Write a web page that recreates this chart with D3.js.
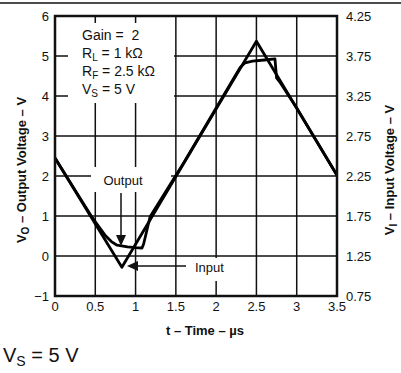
<!DOCTYPE html>
<html><head><meta charset="utf-8">
<script src="https://cdn.jsdelivr.net/npm/d3@7"></script>
<style>
html,body{margin:0;padding:0;background:#fff;}
svg{display:block;font-family:"Liberation Sans",Arial,Helvetica,sans-serif;}
</style></head>
<body><svg id="c" width="401" height="373"></svg>
<script>
// ---- data ----
const timeTicks = [0, 0.5, 1, 1.5, 2, 2.5, 3, 3.5];
const timeLabels = ["0", "0.5", "1", "1.5", "2", "2.5", "3", "3.5"];
const voTicks = [-1, 0, 1, 2, 3, 4, 5, 6];
const voLabels = ["\u22121", "0", "1", "2", "3", "4", "5", "6"];
const viLabels = ["0.75", "1.25", "1.75", "2.25", "2.75", "3.25", "3.75", "4.25"];
const inputT = [0, 0.83, 2.5, 3.5];
const inputV = [2.45, -0.28, 5.37, 2.02];
const outputT = [0, 0.3, 0.45, 0.55, 0.63, 0.7, 0.77, 0.9, 1.0, 1.08, 1.1, 1.18, 1.6, 2.0, 2.25, 2.3, 2.36, 2.45, 2.6, 2.73, 2.75, 2.8, 3.0, 3.5];
const outputV = [2.45, 1.48, 1.0, 0.72, 0.5, 0.36, 0.27, 0.23, 0.21, 0.2, 0.3, 0.98, 2.34, 3.7, 4.55, 4.72, 4.83, 4.87, 4.9, 4.93, 4.45, 4.32, 3.7, 2.02];
const notes = [["Gain =\u00a0 2"], ["R", "L", " = 1 k\u03a9"], ["R", "F", " = 2.5 k\u03a9"], ["V", "S", " = 5 V"]];

// ---- layout ----
const svg = d3.select("#c");
const x = d3.scaleLinear().domain([0, 3.5]).range([55, 337]);
const y = d3.scaleLinear().domain([-1, 6]).range([296, 16]);
const ink = "#111";

// top rule
svg.append("line").attr("x1", 0).attr("x2", 401).attr("y1", 3).attr("y2", 3)
  .attr("stroke", ink).attr("stroke-width", 1.5);

// grid
const g = svg.append("g");
g.selectAll(".vg").data(timeTicks.slice(1, -1)).join("line")
  .attr("x1", d => x(d)).attr("x2", d => x(d)).attr("y1", y(6)).attr("y2", y(-1))
  .attr("stroke", ink).attr("stroke-width", 1.5);
g.selectAll(".hg").data(voTicks.slice(1, -1)).join("line")
  .attr("x1", x(0)).attr("x2", x(3.5)).attr("y1", d => y(d)).attr("y2", d => y(d))
  .attr("stroke", ink).attr("stroke-width", 1.5);

// masks behind annotations
svg.append("rect").attr("x", 68).attr("y", 23).attr("width", 106).attr("height", 80).attr("fill", "#fff");
svg.append("rect").attr("x", 91).attr("y", 167).attr("width", 80).attr("height", 25).attr("fill", "#fff");
svg.append("rect").attr("x", 190).attr("y", 258).attr("width", 40).attr("height", 23).attr("fill", "#fff");

// curves
const line = d3.line().x(d => x(d[0])).y(d => y(d[1]));
svg.append("path").datum(inputT.map((t, i) => [t, inputV[i]])).attr("d", line)
  .attr("fill", "none").attr("stroke", "#000").attr("stroke-width", 2.8).attr("stroke-linejoin", "round");
svg.append("path").datum(outputT.map((t, i) => [t, outputV[i]])).attr("d", line)
  .attr("fill", "none").attr("stroke", "#000").attr("stroke-width", 2.8).attr("stroke-linejoin", "round");

// frame
svg.append("rect").attr("x", x(0)).attr("y", y(6)).attr("width", x(3.5) - x(0)).attr("height", y(-1) - y(6))
  .attr("fill", "none").attr("stroke", ink).attr("stroke-width", 2.5);

// left tick labels
svg.selectAll(".yl").data(voTicks).join("text")
  .attr("x", 49).attr("y", d => y(d)).attr("dy", "0.35em").attr("text-anchor", "end")
  .attr("font-size", 13).attr("fill", ink).text((d, i) => voLabels[i]);
// right tick labels
svg.selectAll(".yr").data(voTicks).join("text")
  .attr("x", 346).attr("y", d => y(d)).attr("dy", "0.35em").attr("text-anchor", "start")
  .attr("font-size", 13).attr("fill", ink).text((d, i) => viLabels[i]);
// bottom tick labels
svg.selectAll(".xl").data(timeTicks).join("text")
  .attr("x", d => x(d)).attr("y", 311).attr("text-anchor", "middle")
  .attr("font-size", 13).attr("fill", ink).text((d, i) => timeLabels[i]);

// axis titles
svg.append("text").attr("x", 205).attr("y", 335).attr("text-anchor", "middle")
  .attr("font-size", 13).attr("font-weight", "bold").attr("fill", ink).text("t \u2013 Time \u2013 \u00b5s");
const lt = svg.append("text").attr("transform", "translate(26,170) rotate(-90)").attr("text-anchor", "middle")
  .attr("font-size", 13).attr("font-weight", "bold").attr("fill", ink);
lt.append("tspan").text("V");
lt.append("tspan").attr("font-size", 10).attr("dy", 3).text("O");
lt.append("tspan").attr("dy", -3).text(" \u2013 Output Voltage \u2013 V");
const rt = svg.append("text").attr("transform", "translate(394,170) rotate(-90)").attr("text-anchor", "middle")
  .attr("font-size", 13).attr("font-weight", "bold").attr("fill", ink);
rt.append("tspan").text("V");
rt.append("tspan").attr("font-size", 10).attr("dy", 3).text("I");
rt.append("tspan").attr("dy", -3).text(" \u2013 Input Voltage \u2013 V");

// notes
notes.forEach((n, i) => {
  const t = svg.append("text").attr("x", 82).attr("y", 40 + i * 18).attr("font-size", 14).attr("fill", ink);
  if (n.length === 1) { t.text(n[0]); return; }
  t.append("tspan").text(n[0]);
  t.append("tspan").attr("font-size", 10).attr("dy", 3).text(n[1]);
  t.append("tspan").attr("dy", -3).text(n[2]);
});

// Output label + arrow
svg.append("text").attr("x", 123).attr("y", 185).attr("text-anchor", "middle")
  .attr("font-size", 13).attr("fill", ink).text("Output");
svg.append("line").attr("x1", 121).attr("x2", 121).attr("y1", 193).attr("y2", 236)
  .attr("stroke", ink).attr("stroke-width", 1.5);
svg.append("path").attr("d", "M116,235 L126,235 L121,246 Z").attr("fill", ink);

// Input label + arrow
svg.append("text").attr("x", 195).attr("y", 272).attr("font-size", 13).attr("fill", ink).text("Input");
svg.append("line").attr("x1", 186).attr("x2", 137).attr("y1", 266).attr("y2", 266)
  .attr("stroke", ink).attr("stroke-width", 1.5);
svg.append("path").attr("d", "M138,261 L138,271 L127,266 Z").attr("fill", ink);

// bottom caption
const bc = svg.append("text").attr("x", 3).attr("y", 362).attr("font-size", 20).attr("fill", ink);
bc.append("tspan").text("V");
bc.append("tspan").attr("font-size", 14).attr("dy", 4).text("S");
bc.append("tspan").attr("dy", -4).text(" = 5 V");
</script></body></html>
